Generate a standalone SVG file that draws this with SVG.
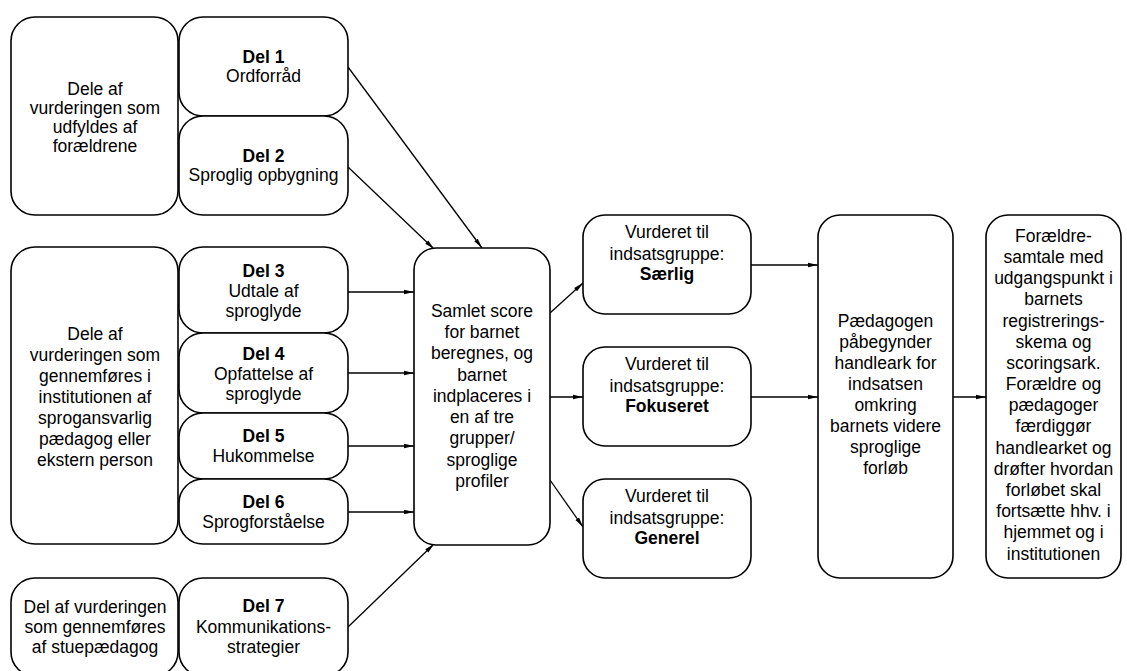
<svg xmlns="http://www.w3.org/2000/svg" width="1127" height="671" viewBox="0 0 1127 671">
<defs>
<marker id="ah" viewBox="0 0 10 6" refX="10" refY="3" markerWidth="10" markerHeight="6" markerUnits="userSpaceOnUse" orient="auto">
<path d="M0,0.8 L10,3 L0,5.2 Z" fill="#000"/>
</marker>
<style>
.box{fill:#fff;stroke:#000;stroke-width:1.6}
text{font-family:"Liberation Sans",Arial,sans-serif;font-size:17.5px;fill:#000;text-anchor:middle}
.b{font-weight:bold}
.c{fill:none;stroke:#000;stroke-width:1.3;marker-end:url(#ah)}
</style>
</defs>
<rect width="1127" height="671" fill="#fff"/>

<g id="connectors">
<line class="c" x1="348" y1="67" x2="482" y2="248"/>
<line class="c" x1="348" y1="167" x2="434" y2="249"/>
<line class="c" x1="348" y1="292" x2="414" y2="292"/>
<line class="c" x1="348" y1="373" x2="414" y2="373"/>
<line class="c" x1="348" y1="446" x2="414" y2="446"/>
<line class="c" x1="348" y1="512" x2="414" y2="512"/>
<line class="c" x1="348" y1="627" x2="434" y2="544"/>
<line class="c" x1="550" y1="313" x2="583" y2="283"/>
<line class="c" x1="550" y1="397" x2="583" y2="397"/>
<line class="c" x1="550" y1="480" x2="583" y2="527"/>
<line class="c" x1="751" y1="265" x2="818" y2="265"/>
<line class="c" x1="751" y1="397" x2="818" y2="397"/>
<line class="c" x1="953" y1="397" x2="986" y2="397"/>
</g>

<g id="n-foraeldre">
<rect class="box" x="11" y="17" width="167" height="198" rx="24"/>
<text x="95" y="95">Dele af</text>
<text x="95" y="114">vurderingen som</text>
<text x="95" y="133">udfyldes af</text>
<text x="95" y="152">forældrene</text>
</g>
<g id="n-del1">
<rect class="box" x="179" y="17" width="169" height="99" rx="24"/>
<text class="b" x="263.5" y="63">Del 1</text>
<text x="263.5" y="82">Ordforråd</text>
</g>
<g id="n-del2">
<rect class="box" x="179" y="116" width="169" height="99" rx="24"/>
<text class="b" x="263.5" y="162">Del 2</text>
<text x="263.5" y="181">Sproglig opbygning</text>
</g>

<g id="n-institution">
<rect class="box" x="11" y="247" width="167" height="297" rx="24"/>
<text x="95" y="340">Dele af</text>
<text x="95" y="361">vurderingen som</text>
<text x="95" y="382">gennemføres i</text>
<text x="95" y="403">institutionen af</text>
<text x="95" y="424">sprogansvarlig</text>
<text x="95" y="445">pædagog eller</text>
<text x="95" y="466">ekstern person</text>
</g>
<g id="n-del3">
<rect class="box" x="179" y="247" width="169" height="86" rx="24"/>
<text class="b" x="263.5" y="277">Del 3</text>
<text x="263.5" y="297">Udtale af</text>
<text x="263.5" y="317">sproglyde</text>
</g>
<g id="n-del4">
<rect class="box" x="179" y="333" width="169" height="80" rx="24"/>
<text class="b" x="263.5" y="360">Del 4</text>
<text x="263.5" y="380">Opfattelse af</text>
<text x="263.5" y="400">sproglyde</text>
</g>
<g id="n-del5">
<rect class="box" x="179" y="413" width="169" height="66" rx="24"/>
<text class="b" x="263.5" y="442">Del 5</text>
<text x="263.5" y="462">Hukommelse</text>
</g>
<g id="n-del6">
<rect class="box" x="179" y="479" width="169" height="65" rx="24"/>
<text class="b" x="263.5" y="508">Del 6</text>
<text x="263.5" y="528">Sprogforståelse</text>
</g>

<g id="n-stue">
<rect class="box" x="11" y="578" width="167" height="98" rx="24"/>
<text x="95" y="613">Del af vurderingen</text>
<text x="95" y="633">som gennemføres</text>
<text x="95" y="653">af stuepædagog</text>
</g>
<g id="n-del7">
<rect class="box" x="179" y="578" width="169" height="98" rx="24"/>
<text class="b" x="263.5" y="612">Del 7</text>
<text x="263.5" y="633">Kommunikations-</text>
<text x="263.5" y="653">strategier</text>
</g>

<g id="n-samlet">
<rect class="box" x="414" y="248" width="136" height="297" rx="22"/>
<text x="482" y="317">Samlet score</text>
<text x="482" y="338">for barnet</text>
<text x="482" y="359">beregnes, og</text>
<text x="482" y="381">barnet</text>
<text x="482" y="402">indplaceres i</text>
<text x="482" y="423">en af tre</text>
<text x="482" y="444">grupper/</text>
<text x="482" y="466">sproglige</text>
<text x="482" y="487">profiler</text>
</g>

<g id="n-saerlig">
<rect class="box" x="583" y="215" width="168" height="99" rx="22"/>
<text x="667" y="238">Vurderet til</text>
<text x="667" y="260">indsatsgruppe:</text>
<text class="b" x="667" y="280">Særlig</text>
</g>
<g id="n-fokuseret">
<rect class="box" x="583" y="347" width="168" height="99" rx="22"/>
<text x="667" y="370">Vurderet til</text>
<text x="667" y="392">indsatsgruppe:</text>
<text class="b" x="667" y="412">Fokuseret</text>
</g>
<g id="n-generel">
<rect class="box" x="583" y="479" width="168" height="99" rx="22"/>
<text x="667" y="502">Vurderet til</text>
<text x="667" y="524">indsatsgruppe:</text>
<text class="b" x="667" y="544">Generel</text>
</g>

<g id="n-paedagogen">
<rect class="box" x="818" y="215" width="135" height="363" rx="22"/>
<text x="885.5" y="327">Pædagogen</text>
<text x="885.5" y="348">påbegynder</text>
<text x="885.5" y="369">handleark for</text>
<text x="885.5" y="390">indsatsen</text>
<text x="885.5" y="411">omkring</text>
<text x="885.5" y="432">barnets videre</text>
<text x="885.5" y="453">sproglige</text>
<text x="885.5" y="474">forløb</text>
</g>

<g id="n-samtale">
<rect class="box" x="986" y="215" width="135" height="363" rx="22"/>
<text x="1053.5" y="242">Forældre-</text>
<text x="1053.5" y="263">samtale med</text>
<text x="1053.5" y="284">udgangspunkt i</text>
<text x="1053.5" y="305">barnets</text>
<text x="1053.5" y="327">registrerings-</text>
<text x="1053.5" y="348">skema og</text>
<text x="1053.5" y="369">scoringsark.</text>
<text x="1053.5" y="390">Forældre og</text>
<text x="1053.5" y="411">pædagoger</text>
<text x="1053.5" y="432">færdiggør</text>
<text x="1053.5" y="454">handlearket og</text>
<text x="1053.5" y="475">drøfter hvordan</text>
<text x="1053.5" y="496">forløbet skal</text>
<text x="1053.5" y="517">fortsætte hhv. i</text>
<text x="1053.5" y="538">hjemmet og i</text>
<text x="1053.5" y="560">institutionen</text>
</g>
</svg>
